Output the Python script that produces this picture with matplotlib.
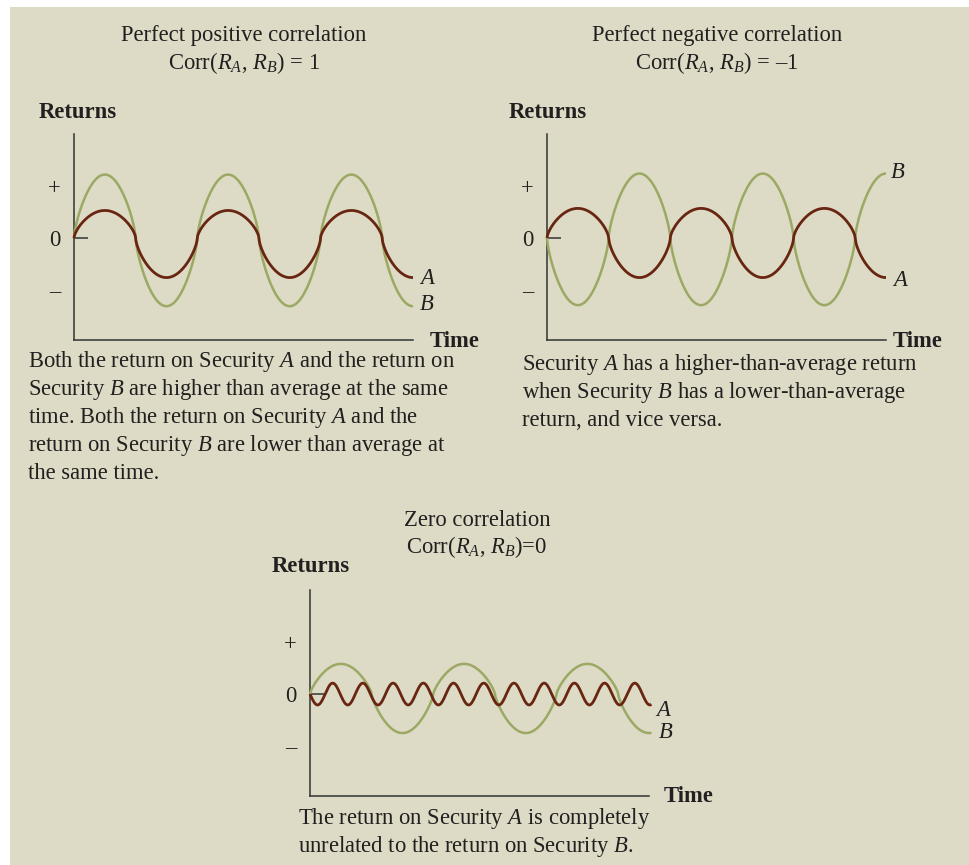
import numpy as np
import matplotlib
matplotlib.use("Agg")
import matplotlib.pyplot as plt
from matplotlib.patches import Rectangle

# ---------------- data ----------------
panel_titles = ["Perfect positive correlation", "Perfect negative correlation", "Zero correlation"]
corr_values = [" = 1", " = \u20131", "=0"]
y_tick_values = [1, 0, -1]
y_tick_labels = ["+", "0", "\u2013"]
series_names = ["A", "B"]

# schematic return waves (cycles per time unit, amplitude above / below average, direction, shape)
freq_A = [1.0, 1.0, 4.08]
freq_B = [1.0, 1.0, 1.0]
amp_up_A = [0.53, 0.57, 0.21]
amp_dn_A = [0.76, 0.76, 0.21]
amp_up_B = [1.22, 1.24, 0.58]
amp_dn_B = [1.31, 1.29, 0.75]
sign_A = [1, 1, -1]
sign_B = [1, -1, 1]
shape_A = [0.65, 0.65, 1.0]
shape_B = [0.7, 0.7, 0.75]
t_end = [2.75, 2.75, 2.77]

captions = [
    ["Both the return on Security $A$ and the return on",
     "Security $B$ are higher than average at the same",
     "time. Both the return on Security $A$ and the",
     "return on Security $B$ are lower than average at",
     "the same time."],
    ["Security $A$ has a higher-than-average return",
     "when Security $B$ has a lower-than-average",
     "return, and vice versa."],
    ["The return on Security $A$ is completely",
     "unrelated to the return on Security $B$."],
]

# ---------------- style / layout ----------------
W, H = 969, 865
BG = "#DDDBC5"
BROWN = "#682612"
GREEN = "#9BA964"
INK = "#231F20"
FS = 16.3

plt.rcParams["font.family"] = ["Liberation Serif", "DejaVu Serif"]
plt.rcParams["mathtext.fontset"] = "custom"
plt.rcParams["mathtext.rm"] = "Liberation Serif"
plt.rcParams["mathtext.it"] = "Liberation Serif:italic"
plt.rcParams["mathtext.bf"] = "Liberation Serif:bold"
plt.rcParams["text.color"] = INK

fig = plt.figure(figsize=(W / 100, H / 100), dpi=100)
fig.patch.set_facecolor("white")
fig.patches.append(Rectangle((10 / W, 0), 1 - 10 / W, 1 - 7 / H, transform=fig.transFigure,
                             facecolor=BG, edgecolor="none", zorder=-10))


def fx(px):
    return px / W


def fy(py):
    return 1 - py / H


ax_left = [74, 547, 310]
ax_right = [413, 886, 649]
ax_top = [134, 134, 590]
ax_bottom = [340, 340, 796]

title_x = [244, 717, 477]
title_y = [(35, 63), (35, 63), (520, 547)]
returns_pos = [(39, 113), (509, 113), (272, 567)]
time_pos = [(430, 341), (893, 341), (664, 796)]
label_pos = [
    {"A": (427, 278), "B": (427, 305)},
    {"A": (900, 281), "B": (898, 173)},
    {"A": (663, 710), "B": (666, 733)},
]
caption_x = [28, 522, 298]
caption_base = [367, 370, 824]
caption_step = 28


def wave(t, f, up, dn, sgn, p):
    s = sgn * np.sin(2 * np.pi * f * t)
    mag = np.abs(s) ** p
    return np.where(s >= 0, up * mag, -dn * mag)


for i in range(3):
    ax = fig.add_axes([fx(ax_left[i]), fy(ax_bottom[i]),
                       (ax_right[i] - ax_left[i]) / W, (ax_bottom[i] - ax_top[i]) / H])
    ax.set_facecolor("none")
    ax.set_xlim(0, 2.75)
    ax.set_ylim(-1.96, 2.0)
    for sp in ["top", "right"]:
        ax.spines[sp].set_visible(False)
    for sp in ["left", "bottom"]:
        ax.spines[sp].set_color("#333333")
        ax.spines[sp].set_linewidth(1.1)
    ax.set_xticks([])
    ax.set_yticks([0], ["0"])
    ax.tick_params(axis="y", which="major", direction="in", length=10, width=1.1,
                   color="#333333", pad=9.7, labelsize=FS, labelcolor=INK)
    ax.set_yticks([v for v in y_tick_values if v != 0],
                  [l for v, l in zip(y_tick_values, y_tick_labels) if v != 0], minor=True)
    ax.tick_params(axis="y", which="minor", length=0, pad=9.7, labelsize=FS, labelcolor=INK)

    t = np.linspace(0, t_end[i], 1200)
    yB = wave(t, freq_B[i], amp_up_B[i], amp_dn_B[i], sign_B[i], shape_B[i])
    yA = wave(t, freq_A[i], amp_up_A[i], amp_dn_A[i], sign_A[i], shape_A[i])
    ax.plot(t, yB, color=GREEN, lw=1.8, clip_on=False, solid_capstyle="butt", zorder=3)
    ax.plot(t, yA, color=BROWN, lw=2.0, clip_on=False, solid_capstyle="butt", zorder=4)

    # titles
    fig.text(fx(title_x[i]), fy(title_y[i][0]), panel_titles[i], ha="center", va="center", fontsize=FS)
    fig.text(fx(title_x[i]), fy(title_y[i][1]),
             "Corr($R_A$, $R_B$)" + corr_values[i], ha="center", va="center", fontsize=FS)
    # axis labels
    fig.text(fx(returns_pos[i][0]), fy(returns_pos[i][1]), "Returns", ha="left", va="center",
             fontsize=FS, fontweight="bold")
    fig.text(fx(time_pos[i][0]), fy(time_pos[i][1]), "Time", ha="left", va="center",
             fontsize=FS, fontweight="bold")
    # series labels
    for name in series_names:
        px, py = label_pos[i][name]
        fig.text(fx(px), fy(py), name, ha="center", va="center", fontsize=FS, fontstyle="italic")
    # captions
    for k, line in enumerate(captions[i]):
        fig.text(fx(caption_x[i]), fy(caption_base[i] + k * caption_step), line,
                 ha="left", va="baseline", fontsize=FS)

fig.savefig("out.png", dpi=100, facecolor=fig.get_facecolor())
